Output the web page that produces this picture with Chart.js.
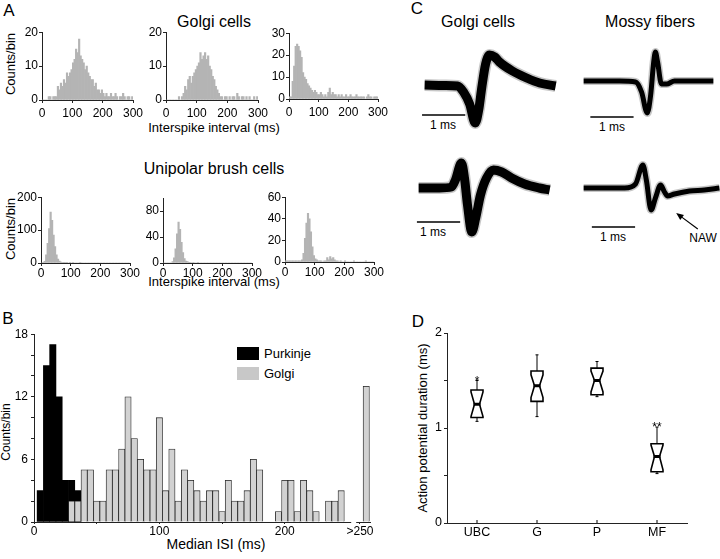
<!DOCTYPE html>
<html>
<head>
<meta charset="utf-8">
<script src="https://cdn.jsdelivr.net/npm/chart.js@4.4.0/dist/chart.umd.min.js"></script>
<style>
html, body { margin:0; padding:0; background:#fff; width:720px; height:559px; overflow:hidden; position:relative;
  font-family:"Liberation Sans", Arial, sans-serif; color:#000; }
canvas { position:absolute; }
.t { position:absolute; line-height:1; white-space:nowrap; transform:translate(-50%,-50%); }
.v { transform:translate(-50%,-50%) rotate(-90deg); }
.sw { position:absolute; }
</style>
</head>
<body>
<!-- panel A -->
<div class="t" style="left:9px;top:10px;font-size:17px">A</div>
<div class="t" style="left:214px;top:22px;font-size:16px">Golgi cells</div>
<div class="t v" style="left:10px;top:64px;font-size:13px">Counts/bin</div>
<div class="t" style="left:214px;top:127px;font-size:13px">Interspike interval (ms)</div>
<div class="t" style="left:214px;top:169px;font-size:16px">Unipolar brush cells</div>
<div class="t v" style="left:10px;top:229px;font-size:13px">Counts/bin</div>
<div class="t" style="left:214px;top:281px;font-size:13px">Interspike interval (ms)</div>
<!-- panel B -->
<div class="t" style="left:8px;top:318px;font-size:17px">B</div>
<div class="t v" style="left:6px;top:432px;font-size:12px">Counts/bin</div>
<div class="t" style="left:216px;top:544px;font-size:14px">Median ISI (ms)</div>
<div class="sw" style="left:237px;top:347px;width:22px;height:13px;background:#000"></div>
<div class="t" style="left:264px;top:353px;font-size:13px;transform:translate(0,-50%)">Purkinje</div>
<div class="sw" style="left:237px;top:367px;width:22px;height:13px;background:#c8c8c8"></div>
<div class="t" style="left:264px;top:373px;font-size:13px;transform:translate(0,-50%)">Golgi</div>
<!-- panel C -->
<div class="t" style="left:417px;top:8px;font-size:17px">C</div>
<div class="t" style="left:478px;top:22px;font-size:16px">Golgi cells</div>
<div class="t" style="left:650px;top:22px;font-size:16px">Mossy fibers</div>
<div class="t" style="left:443px;top:125px;font-size:12px">1 ms</div>
<div class="t" style="left:433px;top:232px;font-size:12px">1 ms</div>
<div class="t" style="left:612px;top:127px;font-size:12px">1 ms</div>
<div class="t" style="left:613px;top:237px;font-size:12px">1 ms</div>
<div class="t" style="left:703px;top:238px;font-size:12px">NAW</div>
<!-- panel D -->
<div class="t" style="left:418px;top:321px;font-size:17px">D</div>
<div class="t v" style="left:422px;top:428px;font-size:13px">Action potential duration (ms)</div>

<script>
// ---------- data ----------
// A: interspike interval histograms, 5 ms bins from 0 to 300 ms
const isiBinWidth = 5;
const isiTicks = [0, 100, 200, 300];
const golgiIsi1 = [0,0,0,0,1,1,0,1,1,1, 4,3,5,4,6,5,8,7,8,9, 11,12,15,14,18,13,12,11,9,10, 8,7,6,6,4,5,3,3,2,3, 2,1,2,1,1,2,1,1,2,1, 0,1,1,2,1,0,1,1,0,1];
const golgiIsi2 = [0,0,0,0,0,0,0,0,1,0, 1,2,4,3,6,7,5,7,8,9, 10,11,14,12,13,14,12,13,10,9, 7,6,4,3,2,1,1,0,1,1, 0,1,0,1,1,0,2,1,0,1, 1,0,1,0,1,0,0,1,0,1];
const golgiIsi3 = [1,1,8,15,24,25,24,22,19,12, 10,9,7,6,5,4,3,4,3,2, 2,3,2,1,2,1,3,5,2,3, 2,2,1,2,1,2,1,1,2,1, 1,2,1,1,1,2,1,1,1,1, 1,0,1,2,1,1,0,1,1,1];
const ubcIsi1 = [0,2,5,25,60,105,155,130,85,50, 25,12,6,3,2,1,1,1,0,1, 0,1,0,0,0,0,1,0,0,0, 0,0,0,0,0,0,0,0,0,0, 0,0,0,0,0,0,0,0,0,0, 0,0,0,0,0,0,0,0,0,0];
const ubcIsi2 = [0,0,0,0,0,0,2,8,22,45, 63,52,32,16,7,3,2,1,1,0, 1,0,0,1,0,0,0,0,0,0, 0,0,0,0,0,0,0,0,0,0, 0,0,0,0,0,0,0,0,0,0, 0,0,0,0,0,0,0,0,0,0];
const ubcIsi3 = [1,1,1,1,1,1,1,1,1,1, 1,2,8,22,36,45,40,28,14,6, 3,2,1,1,1,0,1,1,4,2, 5,3,4,2,1,1,0,1,0,0, 1,0,0,0,0,0,1,0,0,0, 0,0,0,0,1,0,0,0,0,0];

// B: median ISI histogram (bin centres in ms; 265 is the ">250" bin)
const purkinjeBins = [5, 10, 15, 20, 25, 30, 35];
const purkinjeCounts = [3, 15, 17, 12, 4, 4, 3];
const golgiBins = [30,35,40,45,50,55,60,65,70,75,80,85,90,95,100,105,110,115,120,125,130,135,140,145,150,155,160,165,170,175,180,185,190,195,200,205,210,215,220,225,230,235,240,245,265];
const golgiCounts = [2,2,5,5,2,2,5,5,7,12,8,6,5,5,10,3,7,2,5,4,3,2,3,3,1,4,2,2,3,6,5,0,0,1,4,4,1,4,3,1,0,2,2,3,13];
const medianTicks = [0, 50, 100, 150, 200, 260];
const medianTickLabels = {0: '0', 100: '100', 200: '200', 260: '>250'};
const countTicks = [0, 2, 4, 6, 8, 10, 12, 14, 16, 18];
const countTickLabels = [0, 6, 12, 18];

// C: spike waveforms (time in ms, amplitude in arbitrary units), with 1 ms scale bars
const golgiTopT = [0, 0.46, 0.76, 0.90, 1.04, 1.17, 1.25, 1.32, 1.41, 1.50, 1.62, 1.73, 2.03, 2.36, 2.66, 3.03];
const golgiTopV = [0, -0.5, -1, -7, -19, -38, -25, -3, 21, 30, 28, 23, 14, 7, 2, -1];
const golgiBotT = [0, 0.48, 0.76, 0.85, 0.99, 1.06, 1.13, 1.23, 1.32, 1.43, 1.57, 1.73, 1.92, 2.15, 2.45, 2.79, 3.03];
const golgiBotV = [0, 0, 1, 8, 25, 10, -17, -44, -30, -7, 10, 18, 16, 10, 4, 0, -2];
const mossyTopT = [0, 0.83, 1.20, 1.34, 1.47, 1.55, 1.62, 1.66, 1.71, 1.80, 1.92, 2.10, 3.00];
const mossyTopV = [0, 0, -1, -11, -32, -14, 19, 29, 19, -3, -3, 0, 0];
const mossyBotT = [0, 0.95, 1.20, 1.37, 1.45, 1.56, 1.66, 1.78, 1.87, 1.94, 2.10, 2.45, 2.79, 3.14];
const mossyBotV = [0, 0, 4, 23, 8, -22, -10, 3, -4, -8, -6, -3, -2, 0];
const scaleBarGolgiTop = {t: [-0.06, 0.94], v: -30};
const scaleBarGolgiBot = {t: [-0.04, 0.96], v: -34};
const scaleBarMossyTop = {t: [0.155, 1.155], v: -36};
const scaleBarMossyBot = {t: [0.19, 1.19], v: -39};
const nawArrowT = [2.64, 2.14];
const nawArrowV = [-41, -25];

// D: action potential duration (ms), notched boxplots
const boxCats = ['UBC', 'G', 'P', 'MF'];
const boxWhiskerLo = [1.07, 1.12, 1.33, 0.52];
const boxQ1 = [1.11, 1.28, 1.35, 0.54];
const boxMedian = [1.25, 1.445, 1.50, 0.70];
const boxQ3 = [1.40, 1.60, 1.63, 0.835];
const boxWhiskerHi = [1.50, 1.77, 1.70, 1.01];
const boxNotchLo = [1.12, 1.32, 1.38, 0.56];
const boxNotchHi = [1.38, 1.56, 1.60, 0.82];
const boxStars = ['*', '', '', '**'];

// ---------- setup ----------
Chart.defaults.font.family = '"Liberation Sans", Arial, sans-serif';
Chart.defaults.color = '#000';
const histGrey = '#b4b4b4';
const axisColor = '#222';

function place(id, left, top, w, h) {
  const c = document.createElement('canvas');
  c.id = id; c.width = Math.round(w); c.height = Math.round(h);
  c.style.left = left + 'px'; c.style.top = top + 'px';
  document.body.appendChild(c);
  return c;
}

const baseOpts = {
  responsive: false, animation: false, events: [], devicePixelRatio: 1,
};

function isiHist(id, area, counts, yMax, yTicks, yLabels, xPad) {
  const axW = 28, axH = 22, padT = 8, padR = 14;
  const w = area.r - area.l, h = area.b - area.t;
  const cv = place(id, area.l - axW, area.t - padT, w + axW + padR, h + padT + axH);
  new Chart(cv, {
    type: 'bar',
    data: {
      datasets: [{
        data: counts.map((c, i) => ({x: i * isiBinWidth + isiBinWidth / 2, y: c})),
        backgroundColor: histGrey, borderWidth: 0, barPercentage: 1, categoryPercentage: 1
      }]
    },
    options: {
      ...baseOpts,
      layout: {padding: {top: padT, right: padR, left: 0, bottom: 0}},
      plugins: {legend: {display: false}, tooltip: {enabled: false}},
      scales: {
        x: {
          type: 'linear', min: 0, max: 300, offset: false,
          afterFit: s => { s.height = axH; },
          afterBuildTicks: s => { s.ticks = isiTicks.map(v => ({value: v})); },
          ticks: {font: {size: 12}, padding: xPad, maxRotation: 0, autoSkip: false},
          grid: {drawOnChartArea: false, offset: false, tickLength: 3, color: axisColor},
          border: {color: axisColor, width: 1}
        },
        y: {
          min: 0, max: yMax,
          afterFit: s => { s.width = axW; },
          afterBuildTicks: s => { s.ticks = yTicks.map(v => ({value: v})); },
          ticks: {font: {size: 12}, padding: 1, callback: v => yLabels.includes(v) ? String(v) : ''},
          grid: {drawOnChartArea: false, tickLength: 3, color: axisColor},
          border: {color: axisColor, width: 1}
        }
      }
    }
  });
}

isiHist('a1', {l: 41.7, t: 31.7, r: 132.7, b: 99.3}, golgiIsi1, 20, [0, 10, 20], [0, 10, 20], 3);
isiHist('a2', {l: 166, t: 31.7, r: 258, b: 99.3}, golgiIsi2, 20, [0, 10, 20], [0, 10, 20], 3);
isiHist('a3', {l: 289.3, t: 33.3, r: 378, b: 99.3}, golgiIsi3, 30, [0, 10, 20, 30], [0, 10, 20, 30], 3);
isiHist('a4', {l: 40.7, t: 196.7, r: 130, b: 262.7}, ubcIsi1, 200, [0, 50, 100, 150, 200], [0, 100, 200], 0);
isiHist('a5', {l: 162.7, t: 197.7, r: 251.7, b: 262.7}, ubcIsi2, 100, [0, 20, 40, 60, 80, 100], [0, 40, 80], 0);
isiHist('a6', {l: 285, t: 197.3, r: 374, b: 262.7}, ubcIsi3, 60, [0, 20, 40, 60], [0, 20, 40, 60], 0);

// ---------- B ----------
const axisBreak = {
  id: 'axisBreak',
  afterDraw(chart) {
    const x = chart.scales.x, ctx = chart.ctx;
    const a = x.getPixelForValue(253), b = x.getPixelForValue(257);
    ctx.save();
    ctx.fillStyle = '#fff';
    ctx.fillRect(a, x.top - 2, b - a, 4);
    ctx.restore();
  }
};
(function () {
  const axW = 30, axH = 25, padT = 10, padR = 10;
  const area = {l: 34.3, t: 334, r: 370.6, b: 521.7};
  const cv = place('b', area.l - axW, area.t - padT, area.r - area.l + axW + padR, area.b - area.t + padT + axH);
  new Chart(cv, {
    type: 'bar',
    data: {
      datasets: [
        {label: 'Purkinje', data: purkinjeBins.map((x, i) => ({x, y: purkinjeCounts[i]})), order: 2,
         backgroundColor: '#000', borderWidth: 0, grouped: false, barPercentage: 1, categoryPercentage: 1},
        {label: 'Golgi', data: golgiBins.map((x, i) => ({x, y: golgiCounts[i]})), order: 1,
         backgroundColor: '#d2d2d2', borderColor: '#222', borderWidth: 0.8, grouped: false,
         barPercentage: 1, categoryPercentage: 1}
      ]
    },
    options: {
      ...baseOpts,
      layout: {padding: {top: padT, right: padR, left: 0, bottom: 0}},
      plugins: {legend: {display: false}, tooltip: {enabled: false}},
      scales: {
        x: {
          type: 'linear', min: 0, max: 268, offset: false,
          afterFit: s => { s.height = axH; },
          afterBuildTicks: s => { s.ticks = medianTicks.map(v => ({value: v})); },
          ticks: {font: {size: 12}, padding: 0, maxRotation: 0, autoSkip: false,
                  callback: v => medianTickLabels[v] || ''},
          grid: {drawOnChartArea: false, offset: false, tickLength: 2, color: axisColor},
          border: {color: axisColor, width: 1}
        },
        y: {
          min: 0, max: 18,
          afterFit: s => { s.width = axW; },
          afterBuildTicks: s => { s.ticks = countTicks.map(v => ({value: v})); },
          ticks: {font: {size: 12}, padding: 3, callback: v => countTickLabels.includes(v) ? String(v) : ''},
          grid: {drawOnChartArea: false, tickLength: 3, color: axisColor},
          border: {color: axisColor, width: 1}
        }
      }
    },
    plugins: [axisBreak]
  });
})();

// ---------- C ----------
const nawArrow = {
  id: 'nawArrow',
  afterDatasetsDraw(chart) {
    const {ctx, scales: {x, y}} = chart;
    const x0 = x.getPixelForValue(nawArrowT[0]), y0 = y.getPixelForValue(nawArrowV[0]);
    const x1 = x.getPixelForValue(nawArrowT[1]), y1 = y.getPixelForValue(nawArrowV[1]);
    const ang = Math.atan2(y1 - y0, x1 - x0), hl = 8;
    ctx.save();
    ctx.strokeStyle = '#000'; ctx.fillStyle = '#000'; ctx.lineWidth = 1.2;
    ctx.beginPath(); ctx.moveTo(x0, y0); ctx.lineTo(x1 - Math.cos(ang) * 4, y1 - Math.sin(ang) * 4); ctx.stroke();
    ctx.beginPath();
    ctx.moveTo(x1, y1);
    ctx.lineTo(x1 - hl * Math.cos(ang - 0.4), y1 - hl * Math.sin(ang - 0.4));
    ctx.lineTo(x1 - hl * Math.cos(ang + 0.4), y1 - hl * Math.sin(ang + 0.4));
    ctx.closePath(); ctx.fill();
    ctx.restore();
  }
};

function spikeChart(id, left, top, t, v, bar, lw, extra) {
  const cv = place(id, left, top, 147, 105);
  const pts = t.map((x, i) => ({x, y: v[i]}));
  new Chart(cv, {
    type: 'line',
    data: {
      datasets: [
        {data: bar.t.map(x => ({x, y: bar.v})), borderColor: '#000', borderWidth: 1.5, pointRadius: 0},
        {data: pts, borderColor: '#000', borderWidth: lw, pointRadius: 0,
         cubicInterpolationMode: 'monotone', borderJoinStyle: 'round'},
        {data: pts, borderColor: 'rgba(0,0,0,0.22)', borderWidth: lw + 3, pointRadius: 0,
         cubicInterpolationMode: 'monotone', borderJoinStyle: 'round'}
      ]
    },
    options: {
      ...baseOpts,
      layout: {padding: 0},
      plugins: {legend: {display: false}, tooltip: {enabled: false}},
      scales: {
        x: {type: 'linear', display: false, min: -0.2, max: 3.2},
        y: {display: false, min: -60, max: 45}
      }
    },
    plugins: extra ? [extra] : []
  });
}
spikeChart('c1', 416.3, 40, golgiTopT, golgiTopV, scaleBarGolgiTop, 9);
spikeChart('c2', 410.3, 143, golgiBotT, golgiBotV, scaleBarGolgiBot, 9);
spikeChart('c3', 575.3, 36, mossyTopT, mossyTopV, scaleBarMossyTop, 5);
spikeChart('c4', 575.3, 143, mossyBotT, mossyBotV, scaleBarMossyBot, 5, nawArrow);

// ---------- D ----------
const notchBoxes = {
  id: 'notchBoxes',
  afterDatasetsDraw(chart) {
    const {ctx, scales: {x, y}} = chart;
    const Y = val => y.getPixelForValue(val);
    const hw = 6, nw = 2.5;
    ctx.save();
    ctx.strokeStyle = '#000'; ctx.fillStyle = '#000';
    boxCats.forEach((c, i) => {
      const cx = x.getPixelForValue(i);
      // inward tick on the category axis
      ctx.lineWidth = 1;
      ctx.beginPath(); ctx.moveTo(cx, x.top); ctx.lineTo(cx, x.top - 3); ctx.stroke();
      // whiskers
      ctx.beginPath();
      ctx.moveTo(cx, Y(boxWhiskerHi[i])); ctx.lineTo(cx, Y(boxQ3[i]));
      ctx.moveTo(cx, Y(boxQ1[i])); ctx.lineTo(cx, Y(boxWhiskerLo[i]));
      ctx.moveTo(cx - 1.5, Y(boxWhiskerHi[i])); ctx.lineTo(cx + 1.5, Y(boxWhiskerHi[i]));
      ctx.moveTo(cx - 1.5, Y(boxWhiskerLo[i])); ctx.lineTo(cx + 1.5, Y(boxWhiskerLo[i]));
      ctx.stroke();
      // notched box
      ctx.lineWidth = 1.6;
      ctx.beginPath();
      ctx.moveTo(cx - hw, Y(boxQ3[i]));
      ctx.lineTo(cx + hw, Y(boxQ3[i]));
      ctx.lineTo(cx + hw, Y(boxNotchHi[i]));
      ctx.lineTo(cx + nw, Y(boxMedian[i]));
      ctx.lineTo(cx + hw, Y(boxNotchLo[i]));
      ctx.lineTo(cx + hw, Y(boxQ1[i]));
      ctx.lineTo(cx - hw, Y(boxQ1[i]));
      ctx.lineTo(cx - hw, Y(boxNotchLo[i]));
      ctx.lineTo(cx - nw, Y(boxMedian[i]));
      ctx.lineTo(cx - hw, Y(boxNotchHi[i]));
      ctx.closePath();
      ctx.stroke();
      // median
      ctx.lineWidth = 3;
      ctx.beginPath(); ctx.moveTo(cx - nw - 1, Y(boxMedian[i])); ctx.lineTo(cx + nw + 1, Y(boxMedian[i])); ctx.stroke();
      // significance marks
      if (boxStars[i]) {
        ctx.font = '12px "Liberation Sans", Arial, sans-serif';
        ctx.textAlign = 'center'; ctx.textBaseline = 'alphabetic';
        ctx.fillText(boxStars[i], cx, Y(boxWhiskerHi[i]) + 4);
      }
    });
    ctx.restore();
  }
};
(function () {
  const axW = 30, axH = 25, padT = 10, padR = 12;
  const area = {l: 446.7, t: 333.3, r: 686.7, b: 523.3};
  const cv = place('d', area.l - axW, area.t - padT, area.r - area.l + axW + padR, area.b - area.t + padT + axH);
  new Chart(cv, {
    type: 'line',
    data: {
      labels: boxCats,
      datasets: [{data: boxMedian, showLine: false, pointRadius: 0}]
    },
    options: {
      ...baseOpts,
      layout: {padding: {top: padT, right: padR, left: 0, bottom: 0}},
      plugins: {legend: {display: false}, tooltip: {enabled: false}},
      scales: {
        x: {
          type: 'category', offset: true,
          afterFit: s => { s.height = axH; },
          ticks: {font: {size: 12.5}, padding: 2, maxRotation: 0, autoSkip: false},
          grid: {drawOnChartArea: false, drawTicks: false},
          border: {color: axisColor, width: 1}
        },
        y: {
          min: 0, max: 2,
          afterFit: s => { s.width = axW; },
          afterBuildTicks: s => { s.ticks = [0, 0.5, 1, 1.5, 2].map(v => ({value: v})); },
          ticks: {font: {size: 12.5}, padding: 2, callback: v => Number.isInteger(v) ? String(v) : ''},
          grid: {drawOnChartArea: false, tickLength: 3, color: axisColor},
          border: {color: axisColor, width: 1}
        }
      }
    },
    plugins: [notchBoxes]
  });
})();
</script>
</body>
</html>
